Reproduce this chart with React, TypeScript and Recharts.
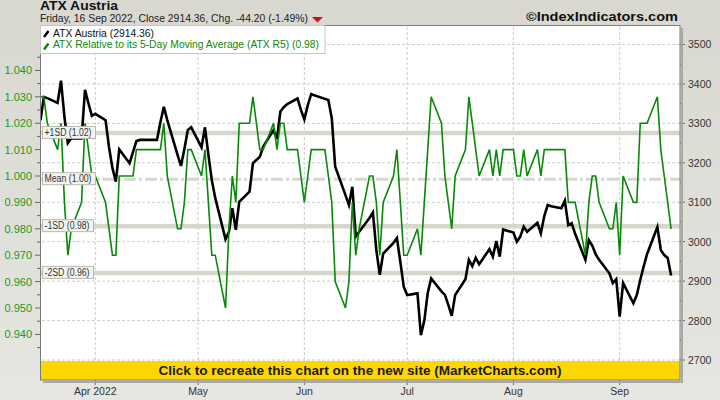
import React from 'react';
import { ComposedChart, Line, XAxis, YAxis, ReferenceLine } from 'recharts';

const FONT = "'Liberation Sans', Arial, sans-serif";

const tradingDates: string[] = [
  '2022-03-16','2022-03-17','2022-03-18','2022-03-21','2022-03-22','2022-03-23','2022-03-24','2022-03-25','2022-03-28','2022-03-29','2022-03-30','2022-03-31',
  '2022-04-01','2022-04-04','2022-04-05','2022-04-06','2022-04-07','2022-04-08','2022-04-11','2022-04-12','2022-04-13','2022-04-14','2022-04-19','2022-04-20','2022-04-21','2022-04-22','2022-04-25','2022-04-26','2022-04-27','2022-04-28','2022-04-29',
  '2022-05-02','2022-05-03','2022-05-04','2022-05-05','2022-05-06','2022-05-09','2022-05-10','2022-05-11','2022-05-12','2022-05-13','2022-05-16','2022-05-17','2022-05-18','2022-05-19','2022-05-20','2022-05-23','2022-05-24','2022-05-25','2022-05-26','2022-05-27','2022-05-30','2022-05-31',
  '2022-06-01','2022-06-02','2022-06-03','2022-06-07','2022-06-08','2022-06-09','2022-06-10','2022-06-13','2022-06-14','2022-06-15','2022-06-16','2022-06-17','2022-06-20','2022-06-21','2022-06-22','2022-06-23','2022-06-24','2022-06-27','2022-06-28','2022-06-29','2022-06-30',
  '2022-07-01','2022-07-04','2022-07-05','2022-07-06','2022-07-07','2022-07-08','2022-07-11','2022-07-12','2022-07-13','2022-07-14','2022-07-15','2022-07-18','2022-07-19','2022-07-20','2022-07-21','2022-07-22','2022-07-25','2022-07-26','2022-07-27','2022-07-28','2022-07-29',
  '2022-08-01','2022-08-02','2022-08-03','2022-08-04','2022-08-05','2022-08-08','2022-08-09','2022-08-10','2022-08-11','2022-08-12','2022-08-15','2022-08-16','2022-08-17','2022-08-18','2022-08-19','2022-08-22','2022-08-23','2022-08-24','2022-08-25','2022-08-26','2022-08-29','2022-08-30','2022-08-31',
  '2022-09-01','2022-09-02','2022-09-05','2022-09-06','2022-09-07','2022-09-08','2022-09-09','2022-09-12','2022-09-13','2022-09-14','2022-09-15','2022-09-16',
];

const atxClose: number[] = [
  3308,3367,3364,3352,3408,3316,3250,3262,3262,3385,3351,3319,
  3324,3308,3240,3187,3152,3234,3199,3227,3255,3258,3258,3303,3342,3308,3220,3192,3235,3283,3290,
  3239,3290,3220,3156,3111,3006,3025,3085,3030,3101,3127,3199,3207,3215,3241,3283,3260,3330,3341,3349,3363,3334,
  3310,3346,3374,3362,3359,3313,3190,3118,3093,3139,3013,3025,3060,3074,2979,2916,2970,2997,3009,2949,2886,
  2865,2869,2763,2800,2870,2907,2874,2865,2840,2812,2865,2905,2954,2938,2959,2943,2981,2962,3002,2962,3031,
  3023,3000,3013,3038,3025,3048,3021,3065,3093,3090,3085,3104,3042,3047,3020,2954,3004,2990,2968,2954,2920,2895,2905,
  2810,2895,2844,2865,2903,2937,2969,3037,2979,2966,2959,2914,
];

const atxR5: number[] = [
  1.03,1.03,1.02,1.01,1.02,0.99,0.97,0.98,0.99,1.02,1.01,1.00,
  1.00,0.99,0.98,0.97,0.97,1.00,1.00,1.00,1.01,1.01,1.01,1.01,1.02,1.00,0.98,0.98,0.99,1.01,1.01,
  1.00,1.01,0.99,0.97,0.97,0.95,0.98,1.00,0.99,1.02,1.02,1.03,1.02,1.01,1.01,1.02,1.01,1.02,1.02,1.01,1.01,1.00,
  0.99,1.00,1.01,1.01,1.00,0.99,0.96,0.95,0.96,0.99,0.97,0.98,1.00,1.00,0.99,0.97,0.99,1.00,1.01,0.99,0.97,
  0.97,0.98,0.97,0.99,1.01,1.03,1.02,1.00,0.99,0.98,1.00,1.01,1.03,1.02,1.01,1.00,1.01,1.00,1.01,1.00,1.01,
  1.01,1.00,1.00,1.01,1.00,1.01,1.00,1.01,1.01,1.01,1.01,1.01,0.99,0.99,0.99,0.97,0.99,1.00,1.00,0.99,0.98,0.98,0.99,
  0.97,1.00,0.99,0.99,1.02,1.02,1.02,1.03,1.01,1.00,0.99,0.98,
];

const monthTickDates = ['2022-04-01','2022-05-01','2022-06-01','2022-07-01','2022-08-01','2022-09-01'];
const monthTickLabels = ['Apr 2022','May','Jun','Jul','Aug','Sep'];
const ratioTicks = [0.94,0.95,0.96,0.97,0.98,0.99,1.0,1.01,1.02,1.03,1.04];
const ratioMinorTicks = [0.935,0.945,0.955,0.965,0.975,0.985,0.995,1.005,1.015,1.025,1.035,1.045];
const priceTicks = [2700,2800,2900,3000,3100,3200,3300,3400,3500];
const priceMinorTicks = [2750,2850,2950,3050,3150,3250,3350,3450];
const bandValues = [1.0163, 0.9988, 0.9810, 0.9633];
const bandLabels = ['+1SD (1.02)','Mean (1.00)','-1SD (0.98)','-2SD (0.96)'];

const BASE = Date.parse('2022-03-16');
const dayOf = (s: string) => (Date.parse(s) - BASE) / 86400000;

const data = tradingDates.map((d, i) => ({ day: dayOf(d), atx: atxClose[i], r5: atxR5[i] }));
const monthTickDays = monthTickDates.map(dayOf);

const isIn = (arr: number[], v: number) => arr.some((t) => Math.abs(t - v) < 1e-6);

function LeftTick(props: any) {
  const { x, y, payload } = props;
  const v = Number(payload?.value);
  const major = isIn(ratioTicks, v);
  return (
    <g>
      <line x1={x - (major ? 5 : 3)} y1={y} x2={x} y2={y} stroke="#666" strokeWidth={1} />
      {major ? (
        <text x={x - 8} y={y + 4} textAnchor="end" fontSize={11} fill="#1f961f" fontFamily={FONT}>
          {v.toFixed(3)}
        </text>
      ) : null}
    </g>
  );
}

function RightTick(props: any) {
  const { x, y, payload } = props;
  const v = Number(payload?.value);
  const major = isIn(priceTicks, v);
  return (
    <g>
      <line x1={x} y1={y} x2={x + (major ? 5 : 3)} y2={y} stroke="#666" strokeWidth={1} />
      {major ? (
        <text x={x + 8} y={y + 4} textAnchor="start" fontSize={10.5} fill="#333" fontFamily={FONT}>
          {String(v)}
        </text>
      ) : null}
    </g>
  );
}

function BottomTick(props: any) {
  const { x, y, payload } = props;
  const v = Number(payload?.value);
  const idx = monthTickDays.findIndex((t) => Math.abs(t - v) < 1e-6);
  return (
    <g>
      <line x1={x} y1={y} x2={x} y2={y + 5} stroke="#666" strokeWidth={1} />
      <text x={x} y={y + 15} textAnchor="middle" fontSize={10.5} fill="#333" fontFamily={FONT}>
        {idx >= 0 ? monthTickLabels[idx] : ''}
      </text>
    </g>
  );
}

function makeBandLabel(text: string) {
  const narrow = text.startsWith('-');
  const w = narrow ? 51 : 53;
  return (props: any) => {
    const vb = props?.viewBox || {};
    const x = Number(vb.x ?? 40);
    const y = Number(vb.y ?? 0);
    return (
      <g>
        <rect x={x + 2.5} y={y - 6.5} width={w} height={12} fill="#f3f3ef" stroke="#b8b8b0" strokeWidth={1} />
        <text
          x={x + 4.5}
          y={y + 3.2}
          fontSize={10}
          fill="#333"
          fontFamily={FONT}
          textLength={w - 6}
          lengthAdjust="spacingAndGlyphs"
        >
          {text}
        </text>
      </g>
    );
  };
}

export default function App() {
  return (
    <div
      style={{
        position: 'absolute',
        left: 0,
        top: 0,
        width: 720,
        height: 400,
        overflow: 'hidden',
        background: 'linear-gradient(#d8d8d0, #e6e6e2)',
      }}
    >
      <div style={{ position: 'absolute', left: 40, top: 25, width: 640, height: 355, background: '#ffffff' }} />
      <div style={{ position: 'absolute', left: 0, top: 0 }}>
        <ComposedChart width={720} height={400} data={data} margin={{ top: 25, right: 0, bottom: 0, left: 0 }}>
          <XAxis
            dataKey="day"
            type="number"
            domain={[-0.13, 186.6]}
            allowDataOverflow
            ticks={monthTickDays}
            interval={0}
            height={20}
            tickSize={0}
            tickMargin={0}
            axisLine={false}
            tickLine={false}
            tick={(p: any) => <BottomTick {...p} />}
          />
          <YAxis
            yAxisId="r"
            orientation="left"
            width={40}
            type="number"
            domain={[0.92273, 1.0572]}
            allowDataOverflow
            ticks={[...ratioTicks, ...ratioMinorTicks]}
            interval={0}
            tickSize={0}
            tickMargin={0}
            axisLine={false}
            tickLine={false}
            tick={(p: any) => <LeftTick {...p} />}
          />
          <YAxis
            yAxisId="p"
            orientation="right"
            width={40}
            type="number"
            domain={[2649.4, 3549.3]}
            allowDataOverflow
            ticks={[...priceTicks, ...priceMinorTicks]}
            interval={0}
            tickSize={0}
            tickMargin={0}
            axisLine={false}
            tickLine={false}
            tick={(p: any) => <RightTick {...p} />}
          />
          {monthTickDays.map((d) => (
            <ReferenceLine key={'vx' + d} x={d} yAxisId="p" stroke="#cccccc" strokeDasharray="3 2" zIndex={-100} />
          ))}
          {priceTicks.map((v) => (
            <ReferenceLine key={'hy' + v} y={v} yAxisId="p" stroke="#cccccc" strokeDasharray="3 2" zIndex={-100} />
          ))}
          {bandValues.map((v, i) => (
            <ReferenceLine
              key={'band' + i}
              y={v}
              yAxisId="r"
              stroke="#d6d6cc"
              strokeWidth={i === 1 ? 3 : 4.5}
              strokeDasharray={i === 1 ? '12 3 3 3' : undefined}
              zIndex={-50}
            />
          ))}
          <Line
            yAxisId="p"
            dataKey="atx"
            type="linear"
            stroke="#000000"
            strokeWidth={2.6}
            dot={false}
            activeDot={false}
            isAnimationActive={false}
          />
          <Line
            yAxisId="r"
            dataKey="r5"
            type="linear"
            stroke="#0a880a"
            strokeWidth={1.6}
            dot={false}
            activeDot={false}
            isAnimationActive={false}
          />
          {bandValues.map((v, i) => (
            <ReferenceLine
              key={'bandlbl' + i}
              y={v}
              yAxisId="r"
              stroke="none"
              zIndex={2000}
              label={makeBandLabel(bandLabels[i])}
            />
          ))}
        </ComposedChart>
      </div>
      <svg width={720} height={400} style={{ position: 'absolute', left: 0, top: 0, pointerEvents: 'none' }}>
        <rect x={40.5} y={361} width={639.5} height={19} fill="#ffd700" />
        <text
          x={360}
          y={375}
          textAnchor="middle"
          fontSize={13}
          fontWeight="bold"
          fill="#1a1a1a"
          fontFamily={FONT}
          textLength={403}
          lengthAdjust="spacingAndGlyphs"
        >
          Click to recreate this chart on the new site (MarketCharts.com)
        </text>
        <line x1={682} y1={28} x2={682} y2={382} stroke="#a8a8a4" strokeWidth={2} />
        <line x1={43} y1={382} x2={683} y2={382} stroke="#a8a8a4" strokeWidth={2} />
        <rect x={40.5} y={25.5} width={639.5} height={354.5} fill="none" stroke="#7a7a7a" strokeWidth={1} />

        <rect x={40.5} y={25.5} width={284.5} height={28} fill="#ffffff" stroke="#c4c4c4" strokeWidth={1} />
        <line x1={44} y1={37} x2={48.5} y2={31} stroke="#000" strokeWidth={2.5} />
        <text x={53} y={37} fontSize={10.5} fill="#111" fontFamily={FONT} textLength={101} lengthAdjust="spacingAndGlyphs">
          ATX Austria (2914.36)
        </text>
        <line x1={44} y1={49.5} x2={48.5} y2={43.5} stroke="#0a880a" strokeWidth={2.5} />
        <text x={53} y={48} fontSize={10.5} fill="#0a880a" fontFamily={FONT} textLength={266} lengthAdjust="spacingAndGlyphs">
          ATX Relative to its 5-Day Moving Average (ATX R5) (0.98)
        </text>

        <text x={40} y={10} fontSize={12} fontWeight="bold" fill="#111" fontFamily={FONT} textLength={78} lengthAdjust="spacingAndGlyphs">
          ATX Austria
        </text>
        <text x={40} y={22} fontSize={10.5} fill="#222" fontFamily={FONT} textLength={268} lengthAdjust="spacingAndGlyphs">
          Friday, 16 Sep 2022, Close 2914.36, Chg. -44.20 (-1.49%)
        </text>
        <polygon points="312,17 323,17 317.5,22.5" fill="#cc1111" />
        <text x={526} y={21} fontSize={13} fontWeight="bold" fill="#111" fontFamily={FONT} textLength={152} lengthAdjust="spacingAndGlyphs">
          ©IndexIndicators.com
        </text>
      </svg>
    </div>
  );
}
